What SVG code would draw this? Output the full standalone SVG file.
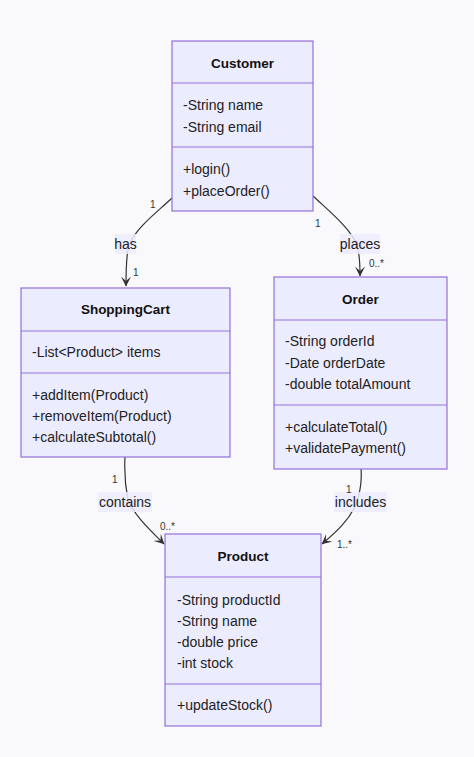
<svg xmlns="http://www.w3.org/2000/svg" width="474" height="757" viewBox="0 0 474 757">
<defs>
<style>
.box{fill:#ececff;stroke:#9370db;stroke-width:1.2}
.div{stroke:#9370db;stroke-width:1.2}
.t{font-family:"Liberation Sans",Arial,sans-serif;font-size:14px;fill:#222}
.title{font-family:"Liberation Sans",Arial,sans-serif;font-size:13.5px;font-weight:bold;fill:#111;text-anchor:middle}
.edge{fill:none;stroke:#333;stroke-width:1.2}
.lbg{fill:#ececff;opacity:0.85}
.lbl{font-family:"Liberation Sans",Arial,sans-serif;font-size:14px;fill:#222;text-anchor:middle}
.m{font-family:"Liberation Sans",Arial,sans-serif;font-size:10px;fill:#333}
</style>
<marker id="arr" viewBox="0 0 10 10" refX="9.5" refY="5" markerWidth="10" markerHeight="10" markerUnits="userSpaceOnUse" orient="auto">
<path d="M0,0 L10,5 L0,10 L4.5,5 Z" fill="#333"/>
</marker>
</defs>
<rect width="474" height="757" fill="#f9f9fb"/>
<g id="connectors">
<path class="edge" d="M172,198 C155,214 136,228 129,245 C126,255 126,270 126,286" marker-end="url(#arr)"/>
<path class="edge" d="M313,196 C330,212 350,228 357,245 C360,255 360,265 360,276" marker-end="url(#arr)"/>
<path class="edge" d="M125,457 C124,475 126,490 128,500 C134,515 150,530 164,544" marker-end="url(#arr)"/>
<path class="edge" d="M361,469 C362,480 360,492 357,502 C350,520 335,533 322,544" marker-end="url(#arr)"/>
<rect class="lbg" x="115" y="234" width="21" height="20"/>
<text class="lbl" x="125.5" y="249">has</text>
<rect class="lbg" x="340" y="234" width="40" height="20"/>
<text class="lbl" x="360" y="249">places</text>
<rect class="lbg" x="98" y="492" width="54" height="20"/>
<text class="lbl" x="125" y="507">contains</text>
<rect class="lbg" x="334" y="492" width="53" height="20"/>
<text class="lbl" x="360.5" y="507">includes</text>
<text class="m" x="150" y="208">1</text>
<text class="m" x="133" y="276">1</text>
<text class="m" x="315" y="227">1</text>
<text class="m" x="369" y="267">0..*</text>
<text class="m" x="112" y="483">1</text>
<text class="m" x="160" y="530">0..*</text>
<text class="m" x="346" y="493">1</text>
<text class="m" x="337" y="548">1..*</text>
</g>
<g id="Customer">
<rect class="box" x="172" y="41" width="141" height="170"/>
<line class="div" x1="172" y1="83" x2="313" y2="83"/>
<line class="div" x1="172" y1="147" x2="313" y2="147"/>
<text class="title" x="242.5" y="68">Customer</text>
<text class="t" x="183" y="110">-String name</text>
<text class="t" x="183" y="132">-String email</text>
<text class="t" x="183" y="174">+login()</text>
<text class="t" x="183" y="196">+placeOrder()</text>
</g>
<g id="ShoppingCart">
<rect class="box" x="21" y="288" width="209" height="169"/>
<line class="div" x1="21" y1="331" x2="230" y2="331"/>
<line class="div" x1="21" y1="373" x2="230" y2="373"/>
<text class="title" x="125.5" y="314">ShoppingCart</text>
<text class="t" x="32" y="357">-List&lt;Product&gt; items</text>
<text class="t" x="32" y="400">+addItem(Product)</text>
<text class="t" x="32" y="421">+removeItem(Product)</text>
<text class="t" x="32" y="442">+calculateSubtotal()</text>
</g>
<g id="Order">
<rect class="box" x="274" y="277" width="173" height="192"/>
<line class="div" x1="274" y1="320" x2="447" y2="320"/>
<line class="div" x1="274" y1="405" x2="447" y2="405"/>
<text class="title" x="360.5" y="304">Order</text>
<text class="t" x="285" y="346">-String orderId</text>
<text class="t" x="285" y="368">-Date orderDate</text>
<text class="t" x="285" y="389">-double totalAmount</text>
<text class="t" x="285" y="432">+calculateTotal()</text>
<text class="t" x="285" y="453">+validatePayment()</text>
</g>
<g id="Product">
<rect class="box" x="165" y="534" width="156" height="192"/>
<line class="div" x1="165" y1="577" x2="321" y2="577"/>
<line class="div" x1="165" y1="684" x2="321" y2="684"/>
<text class="title" x="243" y="561">Product</text>
<text class="t" x="177" y="605">-String productId</text>
<text class="t" x="177" y="626">-String name</text>
<text class="t" x="177" y="647">-double price</text>
<text class="t" x="177" y="668">-int stock</text>
<text class="t" x="177" y="710">+updateStock()</text>
</g>
</svg>
